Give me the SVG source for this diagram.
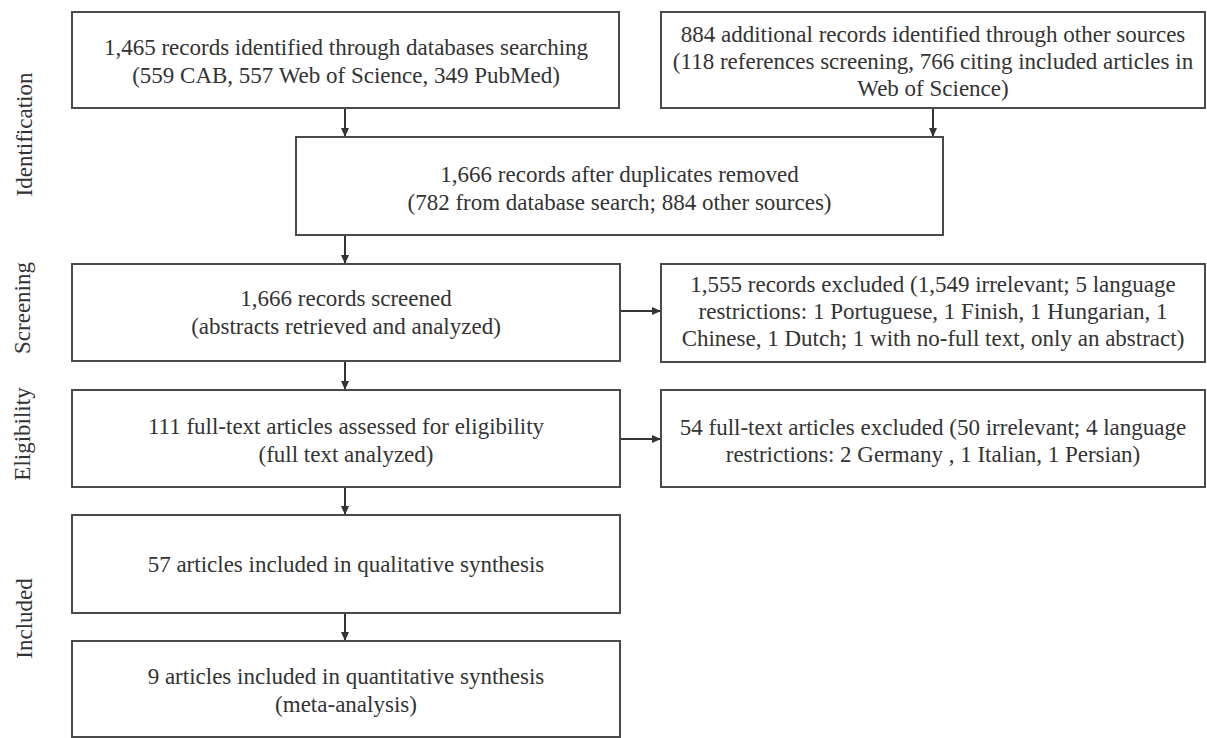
<svg xmlns="http://www.w3.org/2000/svg" width="1207" height="738" viewBox="0 0 1207 738">
<style>
.box{fill:#fff;stroke:#4a4a4a;stroke-width:2}
.t{font-family:"Liberation Serif","Times New Roman",serif;font-size:23px;fill:#333;text-anchor:middle}
.lbl{font-family:"Liberation Serif","Times New Roman",serif;font-size:23px;fill:#333;text-anchor:middle}
.c{stroke:#333;stroke-width:2;fill:none}
</style>
<defs>
<marker id="ah" markerUnits="userSpaceOnUse" markerWidth="9" markerHeight="8" refX="9" refY="4" orient="auto">
<path d="M0,0 L9,4 L0,8 z" fill="#333"/>
</marker>
</defs>
<rect width="1207" height="738" fill="#fff"/>
<g id="labels">
<text class="lbl" transform="translate(32,134.5) rotate(-90)">Identification</text>
<text class="lbl" transform="translate(30,308) rotate(-90)">Screening</text>
<text class="lbl" transform="translate(30,434) rotate(-90)">Eligibility</text>
<text class="lbl" transform="translate(32,618.5) rotate(-90)">Included</text>
</g>
<g id="connectors">
<line class="c" x1="345" y1="108" x2="345" y2="137" marker-end="url(#ah)"/>
<line class="c" x1="933" y1="108" x2="933" y2="137" marker-end="url(#ah)"/>
<line class="c" x1="345" y1="235" x2="345" y2="264" marker-end="url(#ah)"/>
<line class="c" x1="620" y1="311" x2="661" y2="311" marker-end="url(#ah)"/>
<line class="c" x1="345" y1="361" x2="345" y2="390" marker-end="url(#ah)"/>
<line class="c" x1="620" y1="439" x2="661" y2="439" marker-end="url(#ah)"/>
<line class="c" x1="345" y1="487" x2="345" y2="515" marker-end="url(#ah)"/>
<line class="c" x1="345" y1="613" x2="345" y2="641" marker-end="url(#ah)"/>
</g>
<g id="n1">
<rect class="box" x="72" y="12" width="547" height="96"/>
<text class="t" x="346" y="55">1,465 records identified through databases searching</text>
<text class="t" x="346" y="83">(559 CAB, 557 Web of Science, 349 PubMed)</text>
</g>
<g id="n2">
<rect class="box" x="661" y="12" width="544" height="96"/>
<text class="t" x="933" y="42">884 additional records identified through other sources</text>
<text class="t" x="933" y="69">(118 references screening, 766 citing included articles in</text>
<text class="t" x="933" y="96">Web of Science)</text>
</g>
<g id="n3">
<rect class="box" x="296" y="137" width="647" height="98"/>
<text class="t" x="619.5" y="182">1,666 records after duplicates removed</text>
<text class="t" x="619.5" y="210">(782 from database search; 884 other sources)</text>
</g>
<g id="n4">
<rect class="box" x="72" y="264" width="548" height="97"/>
<text class="t" x="346" y="306">1,666 records screened</text>
<text class="t" x="346" y="334">(abstracts retrieved and analyzed)</text>
</g>
<g id="n5">
<rect class="box" x="661" y="264" width="544" height="98"/>
<text class="t" x="933" y="292">1,555 records excluded (1,549 irrelevant; 5 language</text>
<text class="t" x="933" y="319">restrictions: 1 Portuguese, 1 Finish, 1 Hungarian, 1</text>
<text class="t" x="933" y="346">Chinese, 1 Dutch; 1 with no-full text, only an abstract)</text>
</g>
<g id="n6">
<rect class="box" x="72" y="390" width="548" height="97"/>
<text class="t" x="346" y="434">111 full-text articles assessed for eligibility</text>
<text class="t" x="346" y="462">(full text analyzed)</text>
</g>
<g id="n7">
<rect class="box" x="661" y="390" width="544" height="97"/>
<text class="t" x="933" y="435">54 full-text articles excluded (50 irrelevant; 4 language</text>
<text class="t" x="933" y="462">restrictions: 2 Germany , 1 Italian, 1 Persian)</text>
</g>
<g id="n8">
<rect class="box" x="72" y="515" width="548" height="98"/>
<text class="t" x="346" y="572">57 articles included in qualitative synthesis</text>
</g>
<g id="n9">
<rect class="box" x="72" y="641" width="548" height="96"/>
<text class="t" x="346" y="684">9 articles included in quantitative synthesis</text>
<text class="t" x="346" y="712">(meta-analysis)</text>
</g>
</svg>
